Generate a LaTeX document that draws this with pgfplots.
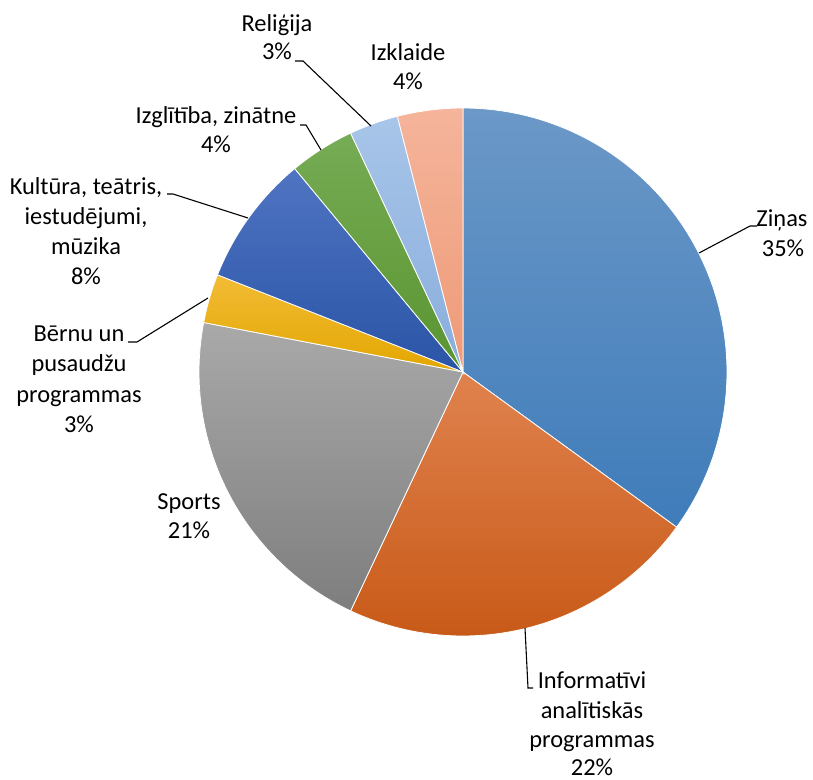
\documentclass[border=0pt]{standalone}
\usepackage{fontspec}
\setmainfont{Carlito}
\usepackage{pgfplots}
\usepackage{pgfplotstable}
\pgfplotsset{compat=1.18}

% slice colours (gradient top / bottom)
\definecolor{c1t}{HTML}{6B98C7}\definecolor{c1b}{HTML}{3F7CBA}
\definecolor{c2t}{HTML}{E0824E}\definecolor{c2b}{HTML}{C85A18}
\definecolor{c3t}{HTML}{A9A9A9}\definecolor{c3b}{HTML}{7E7E7E}
\definecolor{c4t}{HTML}{F2BC36}\definecolor{c4b}{HTML}{E3A600}
\definecolor{c5t}{HTML}{4F74C2}\definecolor{c5b}{HTML}{2A54A6}
\definecolor{c6t}{HTML}{76AC55}\definecolor{c6b}{HTML}{5A9430}
\definecolor{c7t}{HTML}{A8C5E9}\definecolor{c7b}{HTML}{88ADDC}
\definecolor{c8t}{HTML}{F5B49B}\definecolor{c8b}{HTML}{EE9A77}

\pgfplotstableread[col sep=comma]{
label,value,top,bottom
Ziņas,35,c1t,c1b
Informatīvi analītiskās programmas,22,c2t,c2b
Sports,21,c3t,c3b
Bērnu un pusaudžu programmas,3,c4t,c4b
Kultūra teātris iestudējumi mūzika,8,c5t,c5b
Izglītība zinātne,4,c6t,c6b
Reliģija,3,c7t,c7b
Izklaide,4,c8t,c8b
}\piedata

\newcommand\lf{\fontsize{24.5}{29.5}\selectfont}
\def\cx{463}
\def\cy{372}
\def\R{264}

\begin{document}
\begin{tikzpicture}[lbl/.style={font=\lf, anchor=base, inner sep=0pt}]
\begin{axis}[
    width=813bp, height=780bp, scale only axis,
    xmin=0, xmax=813, ymin=0, ymax=780,
    y dir=reverse,
    hide axis, clip=false,
]
\def\acc{0}
\pgfplotsforeachungrouped \i in {0,...,7}{
    \pgfplotstablegetelem{\i}{value}\of\piedata \let\v=\pgfplotsretval
    \pgfplotstablegetelem{\i}{top}\of\piedata \let\ct=\pgfplotsretval
    \pgfplotstablegetelem{\i}{bottom}\of\piedata \let\cb=\pgfplotsretval
    \pgfmathsetmacro\a{90-3.6*\acc}
    \pgfmathsetmacro\acc{\acc+\v}
    \pgfmathsetmacro\b{90-3.6*\acc}
    \edef\tmp{\noexpand\addplot[draw=white, line width=0.8pt,
        top color=\ct, bottom color=\cb, domain=\b:\a, samples=90]
        ({\cx+\R*cos(x)},{\cy-\R*sin(x)}) -- (axis cs:\cx,\cy) -- cycle;}
    \tmp
}

% leader lines
\addplot[black, line width=1.1pt] coordinates {(699,253) (750,226) (757,226)};
\addplot[black, line width=1.1pt] coordinates {(525,628) (528,688) (533,688)};
\addplot[black, line width=1.1pt] coordinates {(128,342) (137,342) (208,298)};
\addplot[black, line width=1.1pt] coordinates {(167,194) (173,194) (248,218)};
\addplot[black, line width=1.1pt] coordinates {(300,125) (306,125) (321,150)};
\addplot[black, line width=1.1pt] coordinates {(295,61) (303,61) (371,126)};

% labels
\node[lbl] at (axis cs:782,227) {Ziņas};
\node[lbl] at (axis cs:783,257) {35\%};
\node[lbl] at (axis cs:592,688) {Informatīvi};
\node[lbl] at (axis cs:592,718) {analītiskās};
\node[lbl] at (axis cs:592,747) {programmas};
\node[lbl] at (axis cs:592,775) {22\%};
\node[lbl] at (axis cs:189,509) {Sports};
\node[lbl] at (axis cs:189,538) {21\%};
\node[lbl] at (axis cs:79,342) {Bērnu un};
\node[lbl] at (axis cs:79,372) {pusaudžu};
\node[lbl] at (axis cs:79,402) {programmas};
\node[lbl] at (axis cs:79,432) {3\%};
\node[lbl] at (axis cs:86,195) {Kultūra, teātris,};
\node[lbl] at (axis cs:86,225) {iestudējumi,};
\node[lbl] at (axis cs:86,255) {mūzika};
\node[lbl] at (axis cs:86,285) {8\%};
\node[lbl] at (axis cs:216,124) {Izglītība, zinātne};
\node[lbl] at (axis cs:216,153) {4\%};
\node[lbl] at (axis cs:277,32) {Reliģija};
\node[lbl] at (axis cs:277,60) {3\%};
\node[lbl] at (axis cs:408,61) {Izklaide};
\node[lbl] at (axis cs:408,90) {4\%};
\end{axis}
\pgfresetboundingbox
\path (current axis.south west) rectangle (current axis.north east);
\end{tikzpicture}
\end{document}
